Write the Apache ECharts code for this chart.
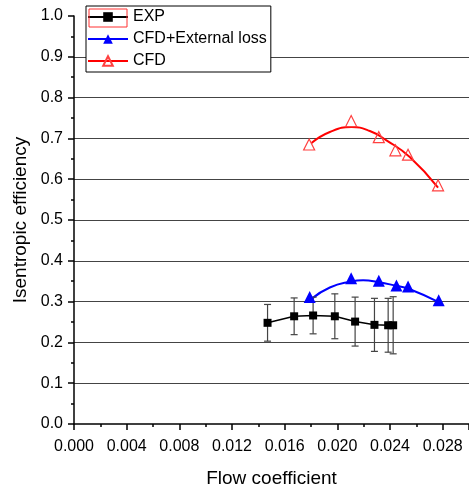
<!DOCTYPE html>
<html>
<head>
<meta charset="utf-8">
<script src="https://cdn.jsdelivr.net/npm/echarts@6/dist/echarts.min.js"></script>
<style>
  html, body { margin: 0; padding: 0; background: #fff; }
  #chart { width: 469px; height: 490px; }
</style>
</head>
<body>
<div id="chart"></div>
<script>
// measured points
var expX = [0.0147, 0.01672, 0.01816, 0.01981, 0.02135, 0.02282, 0.02386, 0.02424];
var expY = [0.248, 0.264, 0.266, 0.264, 0.251, 0.243, 0.242, 0.242];
var expErr = [0.045, 0.045, 0.045, 0.055, 0.06, 0.065, 0.066, 0.07];

// CFD + external loss
var lossX = [0.0179, 0.02105, 0.02315, 0.02449, 0.02537, 0.0277];
var lossY = [0.311, 0.357, 0.351, 0.3395, 0.337, 0.3035];
// fitted curve
var lossFitX = [0.01804, 0.01943, 0.02105, 0.02196, 0.02315, 0.02449, 0.02537, 0.0277];
var lossFitY = [0.3067, 0.3346, 0.3493, 0.3525, 0.3476, 0.3386, 0.3322, 0.2987];

// CFD
var cfdX = [0.01786, 0.02105, 0.02315, 0.02441, 0.02537, 0.02765];
var cfdY = [0.685, 0.7425, 0.703, 0.6707, 0.660, 0.585];
var cfdFitX = [0.01804, 0.01943, 0.02108, 0.02247, 0.02373, 0.0255, 0.02765];
var cfdFitY = [0.6886, 0.7156, 0.7278, 0.718, 0.6953, 0.6544, 0.5794];

function pairs(xs, ys) {
    return xs.map(function (x, i) { return [x, ys[i]]; });
}

var font = 'Liberation Sans, Arial, sans-serif';
var myChart = echarts.init(document.getElementById('chart'));

// grid line colours: none at 0.0 and 1.0
var gridColors = ['transparent'];
for (var i = 1; i < 10; i++) gridColors.push('#444');
gridColors.push('transparent');

var option = {
    animation: false,
    backgroundColor: '#fff',
    textStyle: { fontFamily: font, color: '#000' },
    grid: { left: 74, top: 16, right: 0, bottom: 66, outerBoundsMode: 'none', containLabel: false },
    legend: {
        orient: 'vertical',
        left: 86,
        top: 6,
        padding: [3, 4, 3, 1],
        itemGap: 6,
        itemWidth: 40,
        itemHeight: 12,
        borderColor: '#000',
        borderWidth: 1,
        backgroundColor: '#fff',
        textStyle: { fontFamily: font, fontSize: 16, color: '#000' },
        data: [
            { name: 'EXP' },
            { name: 'CFD+External loss', lineStyle: { opacity: 1 } },
            { name: 'CFD', lineStyle: { opacity: 1 } }
        ]
    },
    graphic: [{
        type: 'rect',
        z: 100,
        shape: { x: 89, y: 9, width: 38, height: 18 },
        style: { fill: 'none', stroke: '#ff3030', lineWidth: 1 }
    }],
    xAxis: {
        type: 'value',
        min: 0,
        max: 0.030,
        interval: 0.004,
        name: 'Flow coefficient',
        nameLocation: 'middle',
        nameGap: 45,
        nameTextStyle: { fontFamily: font, fontSize: 19, color: '#000' },
        axisLine: { lineStyle: { color: '#000', width: 1.5 } },
        axisTick: { length: 6, lineStyle: { color: '#000', width: 1.5 } },
        minorTick: { show: true, splitNumber: 2, length: 3, lineStyle: { color: '#000', width: 1.5 } },
        axisLabel: {
            margin: 15, fontSize: 16, color: '#000', showMaxLabel: false,
            formatter: function (v) { return v.toFixed(3); }
        },
        splitLine: { show: false }
    },
    yAxis: {
        type: 'value',
        min: 0,
        max: 1.0,
        interval: 0.1,
        name: 'Isentropic efficiency',
        nameLocation: 'middle',
        nameGap: 42,
        nameTextStyle: { fontFamily: font, fontSize: 19, color: '#000' },
        axisLine: { show: true, lineStyle: { color: '#000', width: 1.5 } },
        axisTick: { show: true, length: 6, lineStyle: { color: '#000', width: 1.5 } },
        minorTick: { show: true, splitNumber: 2, length: 3, lineStyle: { color: '#000', width: 1.5 } },
        axisLabel: {
            margin: 11, fontSize: 16, color: '#000',
            formatter: function (v) { return v.toFixed(1); }
        },
        splitLine: { show: true, lineStyle: { color: gridColors, width: 1.2 } }
    },
    series: [
        {
            name: 'EXP',
            type: 'line',
            data: pairs(expX, expY),
            symbol: 'rect',
            symbolSize: 8,
            itemStyle: { color: '#000' },
            lineStyle: { color: '#000', width: 1.5 },
            z: 5
        },
        {
            name: 'EXP error',
            type: 'custom',
            data: expX.map(function (x, i) { return [x, expY[i] - expErr[i], expY[i] + expErr[i]]; }),
            renderItem: function (params, api) {
                var lo = api.coord([api.value(0), api.value(1)]);
                var hi = api.coord([api.value(0), api.value(2)]);
                var w = 3.5;
                var st = { stroke: '#444', lineWidth: 1.2 };
                return {
                    type: 'group',
                    children: [
                        { type: 'line', shape: { x1: lo[0], y1: lo[1], x2: hi[0], y2: hi[1] }, style: st },
                        { type: 'line', shape: { x1: lo[0] - w, y1: lo[1], x2: lo[0] + w, y2: lo[1] }, style: st },
                        { type: 'line', shape: { x1: hi[0] - w, y1: hi[1], x2: hi[0] + w, y2: hi[1] }, style: st }
                    ]
                };
            },
            z: 4
        },
        {
            name: 'CFD+External loss fit',
            type: 'line',
            data: pairs(lossFitX, lossFitY),
            smooth: true,
            showSymbol: false,
            lineStyle: { color: '#0000ff', width: 2 },
            z: 3
        },
        {
            name: 'CFD+External loss',
            type: 'line',
            data: pairs(lossX, lossY),
            symbol: 'triangle',
            symbolSize: 12,
            itemStyle: { color: '#0000ff' },
            lineStyle: { color: '#0000ff', width: 2, opacity: 0 },
            z: 6
        },
        {
            name: 'CFD fit',
            type: 'line',
            data: pairs(cfdFitX, cfdFitY),
            smooth: true,
            showSymbol: false,
            lineStyle: { color: '#ff0000', width: 2 },
            z: 3
        },
        {
            name: 'CFD',
            type: 'line',
            data: pairs(cfdX, cfdY),
            symbol: 'triangle',
            symbolSize: 11,
            itemStyle: { color: 'transparent', borderColor: '#ff4040', borderWidth: 1.2 },
            lineStyle: { color: '#ff0000', width: 2, opacity: 0 },
            z: 6
        }
    ]
};

myChart.setOption(option);
</script>
</body>
</html>
